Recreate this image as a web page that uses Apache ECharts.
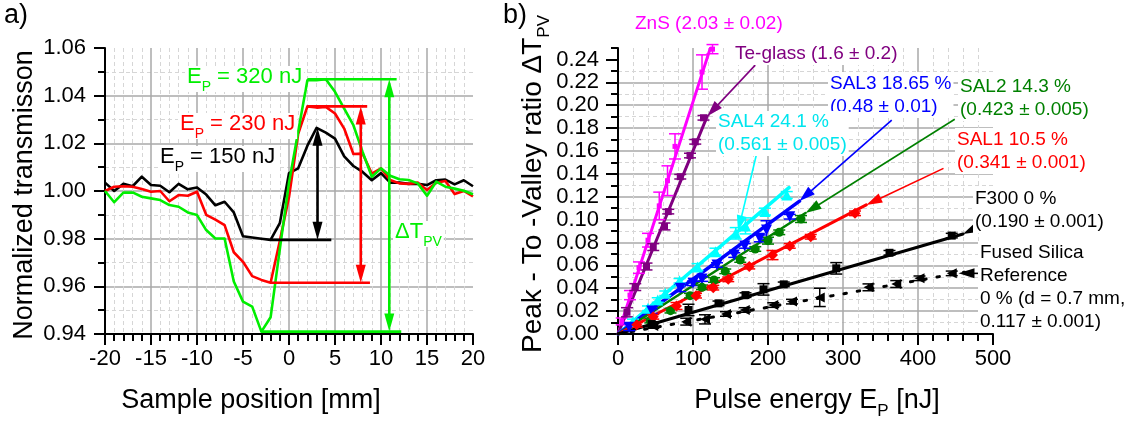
<!DOCTYPE html>
<html>
<head>
<meta charset="utf-8">
<script src="https://cdn.jsdelivr.net/npm/echarts@6/dist/echarts.min.js"></script>
<style>
html, body { margin: 0; padding: 0; background: #fff; }
#chart { width: 1138px; height: 425px; }
</style>
</head>
<body>
<div id="chart"></div>
<script>
// ---------- panel a: z-scan transmission curves ----------
const samplePosition = [-20, -19, -18, -17, -16, -15, -14, -13, -12, -11, -10, -9, -8, -7, -6, -5, -4, -3, -2, -1,
  0, 1, 2, 3, 4, 5, 6, 7, 8, 9, 10, 11, 12, 13, 14, 15, 16, 17, 18, 19, 20];
const trans150 = [1.0035, 1.0000, 1.0030, 1.0020, 1.0060, 1.0025, 1.0022, 0.9995, 1.0030, 1.0007, 1.0015, 0.9985,
  0.9940, 0.9955, 0.9910, 0.9810, 0.9805, 0.9800, 0.9795, 0.9865, 1.0075, 1.0095, 1.0190, 1.0265, 1.0245, 1.0220,
  1.0145, 1.0105, 1.0080, 1.0045, 1.0075, 1.0035, 1.0035, 1.0030, 1.0030, 1.0025, 1.0045, 1.0048, 1.0028, 1.0045, 1.0020];
const trans230 = [1.0000, 1.0018, 1.0020, 1.0018, 1.0008, 0.9997, 1.0000, 0.9957, 0.9983, 0.9980, 0.9997, 0.9900,
  0.9880, 0.9857, 0.9743, 0.9703, 0.9643, 0.9627, 0.9615, 0.9790, 0.9975, 1.0240, 1.0355, 1.0350, 1.0353, 1.0325,
  1.0262, 1.0155, 1.0157, 1.0073, 1.0095, 1.0046, 1.0032, 1.0030, 1.0035, 1.0004, 1.0035, 1.0042, 0.9987, 1.0000, 0.9977];
const trans320 = [1.0000, 0.9953, 0.9993, 0.9994, 0.9976, 0.9969, 0.9962, 0.9941, 0.9934, 0.9910, 0.9899, 0.9836,
  0.9801, 0.9801, 0.9620, 0.9536, 0.9515, 0.9410, 0.9470, 0.9755, 1.0035, 1.0250, 1.0465, 1.0465, 1.0469, 1.0416,
  1.0346, 1.0276, 1.0164, 1.0060, 1.0095, 1.0064, 1.0049, 1.0046, 1.0032, 0.9980, 1.0039, 1.0018, 1.0010, 1.0001, 0.9986];

// ---------- panel b: peak-to-valley ratio vs pulse energy ----------
const znsEnergy = [5, 16, 28, 40, 55, 66, 76, 112, 126];
const znsRatio = [0.011, 0.034, 0.058, 0.082, 0.112, 0.134, 0.164, 0.229, 0.249];
const znsError = [0.003, 0.004, 0.005, 0.006, 0.012, 0.013, 0.011, 0.015, 0.004];

const teEnergy = [12, 23, 38, 47, 62, 67, 83, 96, 103, 114];
const teRatio = [0.019, 0.041, 0.059, 0.076, 0.094, 0.107, 0.1375, 0.156, 0.168, 0.189];
const teError = [0.004, 0.003, 0.003, 0.003, 0.003, 0.002, 0.002, 0.002, 0.002, 0.002];

const sal4Energy = [20, 40, 53, 63, 82, 106, 130, 157, 170, 196, 225];
const sal4Ratio = [0.011, 0.0225, 0.0297, 0.0356, 0.0465, 0.0585, 0.072, 0.088, 0.0945, 0.107, 0.1215];
const sal4Error = [0.002, 0.002, 0.002, 0.002, 0.002, 0.003, 0.003, 0.005, 0.007, 0.003, 0.003];

const sal3Energy = [15, 45, 83, 100, 112, 132, 155, 169, 189, 198, 229];
const sal3Ratio = [0.006, 0.02, 0.04, 0.0443, 0.048, 0.0603, 0.069, 0.077, 0.0836, 0.091, 0.1025];
const sal3Error = [0.003, 0.002, 0.003, 0.002, 0.002, 0.002, 0.002, 0.002, 0.003, 0.008, 0.002];

const sal2Energy = [43, 70, 96, 112, 128, 143, 163, 183, 200, 215, 244];
const sal2Ratio = [0.0117, 0.0204, 0.0335, 0.0408, 0.0472, 0.0548, 0.0647, 0.0743, 0.0816, 0.0889, 0.1005];
const sal2Error = [0.002, 0.002, 0.002, 0.002, 0.002, 0.002, 0.002, 0.002, 0.003, 0.002, 0.003];

const sal1Energy = [25, 47, 78, 104, 127, 147, 175, 206, 229, 257, 316];
const sal1Ratio = [0.008, 0.015, 0.0245, 0.0335, 0.0405, 0.0478, 0.0589, 0.069, 0.077, 0.085, 0.1055];
const sal1Error = [0.002, 0.002, 0.003, 0.002, 0.002, 0.002, 0.002, 0.004, 0.002, 0.002, 0.002];

const f300Energy = [45, 94, 134, 170, 194, 221, 291, 362, 445];
const f300Ratio = [0.0087, 0.021, 0.0268, 0.034, 0.039, 0.0434, 0.0574, 0.071, 0.086];
const f300Error = [0.002, 0.005, 0.002, 0.002, 0.005, 0.002, 0.005, 0.002, 0.002];

const silicaEnergy = [47, 91, 116, 144, 169, 207, 232, 269, 334, 371, 402, 445];
const silicaRatio = [0.007, 0.0108, 0.0128, 0.0175, 0.021, 0.0253, 0.0283, 0.032, 0.0408, 0.0437, 0.0487, 0.053];
const silicaError = [0.002, 0.003, 0.004, 0.002, 0.002, 0.002, 0.002, 0.008, 0.003, 0.003, 0.002, 0.002];

// fitted slopes (x 1e-3 per nJ) and the energy where each fit line stops
const fitSlope = [2.03, 1.6, 0.561, 0.48, 0.423, 0.341, 0.190, 0.117];
const fitEnd = [123, 119, 228, 242, 250, 331, 460, 462];

// tick values
const ratioMajorTicks = [0, 0.02, 0.04, 0.06, 0.08, 0.10, 0.12, 0.14, 0.16, 0.18, 0.20, 0.22, 0.24];

const FONT = "'Liberation Sans', Arial, Helvetica, sans-serif";
const GREEN_A = '#00ee00';

const chart = echarts.init(document.getElementById('chart'), null, { renderer: 'canvas' });

function axisCommon(fmt, labelMargin) {
  return {
    type: 'value',
    axisLine: { show: true, onZero: false, lineStyle: { color: '#000', width: 2 } },
    axisTick: { show: true, inside: false, length: 11, lineStyle: { color: '#000', width: 2 } },
    minorTick: { show: true, length: 7, lineStyle: { color: '#000', width: 2 } },
    splitLine: { show: true, showMaxLine: false, lineStyle: { color: '#a9a9a9', width: 1.5 } },
    minorSplitLine: { show: true, lineStyle: { color: '#d6d6d6', width: 1, type: [4, 3] } },
    axisLabel: { color: '#000', fontSize: 22, fontFamily: FONT, margin: labelMargin, formatter: fmt }
  };
}

const xA = Object.assign(axisCommon(v => String(v), 14), { gridIndex: 0, min: -20, max: 20, interval: 5 });
xA.minorTick.splitNumber = 5; xA.minorSplitLine.splitNumber = 5;
const yA = Object.assign(axisCommon(v => v.toFixed(2), 19), { gridIndex: 0, min: 0.94, max: 1.06, interval: 0.02 });
yA.minorTick.splitNumber = 2;

const xB = Object.assign(axisCommon(v => String(v), 14), { gridIndex: 1, min: 0, max: 500, interval: 100 });
xB.minorTick.splitNumber = 5;
const yB = Object.assign(axisCommon(v => v.toFixed(2), 19), { gridIndex: 1, min: 0, max: 0.25, interval: 0.02, position: 'left' });
yB.minorTick = { show: false };
yB.minorSplitLine = { show: false };
yB.axisTick.length = 12;
yB.axisTick.customValues = ratioMajorTicks;
yB.axisLabel.customValues = ratioMajorTicks;
// second left axis of panel b: every 0.01 (minor ticks and dashed grid)
const yBminor = {
  type: 'value', gridIndex: 1, min: 0, max: 0.25, interval: 0.01, position: 'left', offset: 0,
  axisLine: { show: false },
  axisTick: { show: true, inside: false, length: 7, lineStyle: { color: '#000', width: 2 } },
  axisLabel: { show: false },
  splitLine: { show: true, showMinLine: true, showMaxLine: false,
    lineStyle: { color: ['rgba(0,0,0,0)', '#d6d6d6'], width: 1, type: [4, 3] } },
  z: 0
};

// ---------- arrows / guide lines ----------
const v150 = Math.min(...trans150), p150 = Math.max(...trans150);
const v230 = Math.min(...trans230), p230 = Math.max(...trans230);
const v320 = Math.min(...trans320), p320 = Math.max(...trans320);

const arrowsA = [
  { from: [-2, v150], to: [4.6, v150], color: '#000', w: 2.6, heads: 0 },
  { from: [3.1, v150], to: [3.1, p150], color: '#000', w: 2.6, heads: 3 },
  { from: [2, p230], to: [8.5, p230], color: '#ff0000', w: 2.6, heads: 0 },
  { from: [-2, v230], to: [8.8, v230], color: '#ff0000', w: 2.6, heads: 0 },
  { from: [7.8, v230], to: [7.8, p230], color: '#ff0000', w: 2.6, heads: 3 },
  { from: [2, p320], to: [11.7, p320], color: GREEN_A, w: 2.6, heads: 0 },
  { from: [-3, v320], to: [12.2, v320], color: GREEN_A, w: 2.6, heads: 0 },
  { from: [10.9, v320], to: [10.9, p320], color: GREEN_A, w: 2.6, heads: 3 }
];
const arrowsB = [
  { from: [183, 0.235], to: [fitEnd[1], fitSlope[1] * fitEnd[1] / 1000], color: '#800080', w: 1.6, heads: 2 },
  { from: [185, 0.158], to: [160, 0.0898], color: '#00ffff', w: 1.6, heads: 2 },
  { from: [365, 0.187], to: [fitEnd[3], fitSlope[3] * fitEnd[3] / 1000], color: '#0000ff', w: 1.6, heads: 2 },
  { from: [449, 0.1877], to: [fitEnd[4], fitSlope[4] * fitEnd[4] / 1000], color: '#008000', w: 1.6, heads: 2 },
  { from: [434, 0.1448], to: [fitEnd[5], fitSlope[5] * fitEnd[5] / 1000], color: '#ff0000', w: 1.6, heads: 2 },
  { from: [476, 0.0924], to: [fitEnd[6], fitSlope[6] * fitEnd[6] / 1000], color: '#000', w: 1.6, heads: 2 },
  { from: [483, 0.053], to: [fitEnd[7] - 8, 0.053], color: '#000', w: 1.6, heads: 2 }
];

function arrowSeries(list, gridIdx, headLen, headW) {
  return {
    type: 'custom', xAxisIndex: gridIdx, yAxisIndex: gridIdx, clip: false, z: 6,
    data: list.map(a => [a.from[0], a.from[1], a.to[0], a.to[1]]),
    encode: { x: [0, 2], y: [1, 3] },
    renderItem: function (params, api) {
      const spec = list[params.dataIndex];
      const p1 = api.coord([api.value(0), api.value(1)]);
      const p2 = api.coord([api.value(2), api.value(3)]);
      const dx = p2[0] - p1[0], dy = p2[1] - p1[1];
      const len = Math.sqrt(dx * dx + dy * dy) || 1;
      const ux = dx / len, uy = dy / len, nx = -uy, ny = ux;
      const children = [];
      let s = p1.slice(), e = p2.slice();
      function head(tip, dirx, diry) {
        const bx = tip[0] - dirx * headLen, by = tip[1] - diry * headLen;
        children.push({ type: 'polygon', shape: { points: [tip, [bx + nx * headW / 2, by + ny * headW / 2], [bx - nx * headW / 2, by - ny * headW / 2]] },
          style: { fill: spec.color } });
      }
      if (spec.heads & 2) { head(p2, ux, uy); e = [p2[0] - ux * headLen * 0.8, p2[1] - uy * headLen * 0.8]; }
      if (spec.heads & 1) { head(p1, -ux, -uy); s = [p1[0] + ux * headLen * 0.8, p1[1] + uy * headLen * 0.8]; }
      children.unshift({ type: 'line', shape: { x1: s[0], y1: s[1], x2: e[0], y2: e[1] },
        style: { stroke: spec.color, lineWidth: spec.w } });
      return { type: 'group', children: children };
    }
  };
}

// ---------- panel b series builders ----------
function pairs(xs, ys) { return xs.map((x, i) => [x, ys[i]]); }

function errorBars(xs, ys, errs, color) {
  return {
    type: 'custom', xAxisIndex: 1, yAxisIndex: 1, z: 4,
    itemStyle: { color: color },
    data: xs.map((x, i) => [x, ys[i] - errs[i], ys[i] + errs[i]]),
    encode: { x: 0, y: [1, 2] },
    renderItem: function (params, api) {
      const lo = api.coord([api.value(0), api.value(1)]);
      const hi = api.coord([api.value(0), api.value(2)]);
      const hw = 6;
      const st = { stroke: color, lineWidth: 1.5 };
      return { type: 'group', children: [
        { type: 'line', shape: { x1: lo[0], y1: lo[1], x2: hi[0], y2: hi[1] }, style: st },
        { type: 'line', shape: { x1: lo[0] - hw, y1: lo[1], x2: lo[0] + hw, y2: lo[1] }, style: st },
        { type: 'line', shape: { x1: hi[0] - hw, y1: hi[1], x2: hi[0] + hw, y2: hi[1] }, style: st }
      ] };
    }
  };
}

function fitLine(k, color, width, dashed) {
  const end = fitEnd[k];
  return {
    type: 'line', xAxisIndex: 1, yAxisIndex: 1, z: 3, symbol: 'none', silent: true,
    data: [[0, 0], [end, fitSlope[k] * end / 1000]],
    lineStyle: { color: color, width: width, type: dashed ? [2.5, 11] : 'solid', cap: 'round' }
  };
}

function markers(xs, ys, color, symbol, size, rotate) {
  return {
    type: 'scatter', xAxisIndex: 1, yAxisIndex: 1, z: 5,
    data: pairs(xs, ys), symbol: symbol, symbolSize: size, symbolRotate: rotate || 0,
    itemStyle: { color: color, opacity: 1 }
  };
}

const samplesB = [
  { x: znsEnergy, y: znsRatio, e: znsError, color: '#ff00ff', sym: 'rect', size: 5, rot: 0, lw: 3 },
  { x: teEnergy, y: teRatio, e: teError, color: '#800080', sym: 'rect', size: 7, rot: 0, lw: 3 },
  { x: sal4Energy, y: sal4Ratio, e: sal4Error, color: '#00ffff', sym: 'triangle', size: 11, rot: 0, lw: 3.5 },
  { x: sal3Energy, y: sal3Ratio, e: sal3Error, color: '#0000ff', sym: 'triangle', size: 11, rot: 180, lw: 3.5 },
  { x: sal2Energy, y: sal2Ratio, e: sal2Error, color: '#008000', sym: 'circle', size: 9, rot: 0, lw: 2.5 },
  { x: sal1Energy, y: sal1Ratio, e: sal1Error, color: '#ff0000', sym: 'diamond', size: 11, rot: 0, lw: 3 },
  { x: f300Energy, y: f300Ratio, e: f300Error, color: '#000000', sym: 'rect', size: 8, rot: 0, lw: 3 },
  { x: silicaEnergy, y: silicaRatio, e: silicaError, color: '#000000', sym: 'triangle', size: 10, rot: 90, lw: 3, dashed: true }
];

const seriesB = [];
samplesB.forEach((s, k) => {
  seriesB.push(fitLine(k, s.color, s.lw, s.dashed));
  seriesB.push(errorBars(s.x, s.y, s.e, s.color));
  seriesB.push(markers(s.x, s.y, s.color, s.sym, s.size, s.rot));
});

// ---------- panel a series ----------
function curve(ys, color) {
  return {
    type: 'line', xAxisIndex: 0, yAxisIndex: 0, symbol: 'none', z: 4,
    data: pairs(samplePosition, ys),
    lineStyle: { color: color, width: 2.6, join: 'round' }
  };
}

// ---------- text ----------
function tok(size, color, extra) {
  return Object.assign({ fontSize: size, fontFamily: FONT, fill: color, verticalAlign: 'top' }, extra || {});
}
function subLabel(parts, x, y, color, size, subSize, drop, bg) {
  return {
    type: 'text', x: x, y: y, z: 100,
    style: {
      text: parts, align: 'left', verticalAlign: 'top',
      backgroundColor: bg ? '#fff' : null, padding: bg ? [0, 2, 0, 2] : 0,
      rich: {
        m: tok(size, color, { lineHeight: size + 4 }),
        s: tok(subSize, color, { lineHeight: subSize + 2, padding: [drop, 0, 0, 0] })
      }
    }
  };
}
function block(lines, x, y, color, lh) {
  return {
    type: 'text', x: x, y: y, z: 100,
    style: {
      text: lines.join('\n'), fill: color, font: '19px ' + FONT, lineHeight: lh || 23,
      align: 'left', verticalAlign: 'top', backgroundColor: '#fff', padding: [0, 2, 0, 2]
    }
  };
}

const graphics = [
  { type: 'text', x: 4, y: 2, z: 100, style: { text: 'a)', font: '27px ' + FONT, fill: '#000' } },
  { type: 'text', x: 503, y: 2, z: 100, style: { text: 'b)', font: '27px ' + FONT, fill: '#000' } },
  { type: 'text', x: 25, y: 195, rotation: Math.PI / 2, z: 100,
    style: { text: 'Normalized transmisson', font: '27px ' + FONT, fill: '#000', align: 'center', verticalAlign: 'middle' } },
  { type: 'text', x: 251, y: 401, z: 100,
    style: { text: 'Sample position [mm]', font: '27px ' + FONT, fill: '#000', align: 'center', verticalAlign: 'middle' } },
  { type: 'text', x: 535, y: 184, rotation: Math.PI / 2, z: 100,
    style: { text: '{m|Peak - To -Valley ratio \u0394T}{s|PV}', align: 'center', verticalAlign: 'middle',
      rich: { m: tok(28, '#000', { lineHeight: 32 }), s: tok(17, '#000', { lineHeight: 19, padding: [17, 0, 0, 0] }) } } },
  { type: 'text', x: 817, y: 387, z: 100,
    style: { text: '{m|Pulse energy E}{s|P}{m| [nJ]}', align: 'center', verticalAlign: 'top',
      rich: { m: tok(27, '#000', { lineHeight: 31 }), s: tok(17, '#000', { lineHeight: 19, padding: [16, 0, 0, 0] }) } } },

  subLabel('{m|E}{s|P}{m| = 320 nJ}', 185, 66, GREEN_A, 22, 14, 14, true),
  subLabel('{m|E}{s|P}{m| = 230 nJ}', 178, 113, '#ff0000', 22, 14, 14, true),
  subLabel('{m|E}{s|P}{m| = 150 nJ}', 158, 146, '#000', 22, 14, 14, true),
  subLabel('{m|\u0394T}{s|PV}', 393, 221, GREEN_A, 22, 14, 14, true),

  block(['ZnS (2.03 \u00b1 0.02)'], 633, 12, '#ff00ff'),
  block(['Te-glass (1.6 \u00b1 0.2)'], 733, 42, '#800080'),
  block(['SAL3 18.65 %', '(0.48 \u00b1 0.01)'], 828, 72, '#0000ff'),
  block(['SAL2 14.3 %', '(0.423 \u00b1 0.005)'], 958, 75, '#008000'),
  block(['SAL4 24.1 %', '(0.561 \u00b1 0.005)'], 716, 111, '#00e5ee', 22.5),
  block(['SAL1 10.5 %', '(0.341 \u00b1 0.001)'], 955, 128, '#ff0000'),
  block(['F300 0 %', '(0.190 \u00b1 0.001)'], 973, 187, '#000'),
  block(['Fused Silica', 'Reference', '0 % (d = 0.7 mm,', '0.117 \u00b1 0.001)'], 978, 241, '#000')
];

const option = {
  animation: false,
  backgroundColor: '#fff',
  grid: [
    { left: 105, top: 48, width: 368, height: 286, containLabel: false },
    { left: 618, top: 48, width: 375, height: 286, containLabel: false }
  ],
  xAxis: [xA, xB],
  yAxis: [yA, yB, yBminor],
  series: [
    curve(trans150, '#000'),
    curve(trans230, '#ff0000'),
    curve(trans320, GREEN_A),
    arrowSeries(arrowsA, 0, 18, 10)
  ].concat(seriesB, [arrowSeries(arrowsB, 1, 16, 10)]),
  graphic: graphics
};

chart.setOption(option);
</script>
</body>
</html>
